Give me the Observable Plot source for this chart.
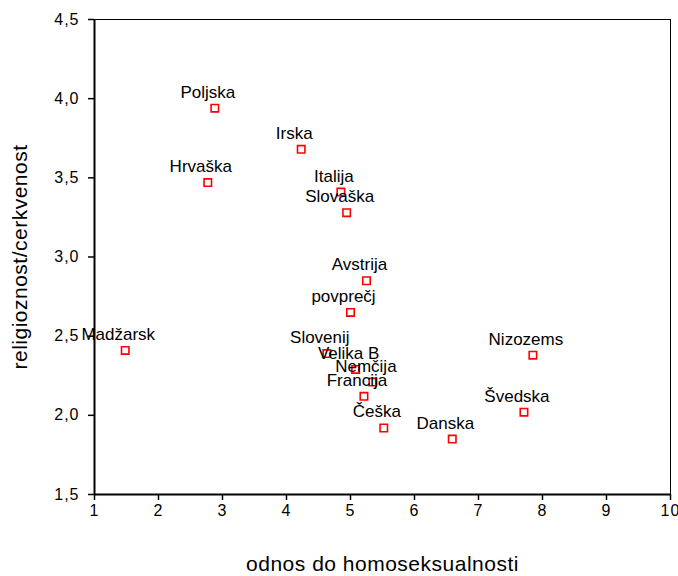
<!DOCTYPE html>
<html>
<head>
<meta charset="utf-8">
<script src="https://cdn.jsdelivr.net/npm/d3@7"></script>
<script src="https://cdn.jsdelivr.net/npm/@observablehq/plot@0.6"></script>
<style>
  html, body { margin: 0; padding: 0; background: #fff; }
  #chart { width: 678px; height: 576px; }
</style>
</head>
<body>
<div id="chart"></div>
<script>
const countries = ["Poljska","Irska","Hrvaška","Italija","Slovaška","Avstrija","povprečj","Madžarsk","Slovenij","Velika B","Nemčija","Francija","Češka","Danska","Švedska","Nizozems"];
const homosexuality = [2.88, 4.23, 2.77, 4.85, 4.94, 5.25, 5.00, 1.48, 4.63, 5.08, 5.35, 5.21, 5.52, 6.59, 7.71, 7.85];
const religiosity = [3.94, 3.68, 3.47, 3.41, 3.28, 2.85, 2.65, 2.41, 2.39, 2.29, 2.21, 2.12, 1.92, 1.85, 2.02, 2.38];
const xTicks = [1,2,3,4,5,6,7,8,9,10];
const yTicks = [1.5,2.0,2.5,3.0,3.5,4.0,4.5];

const data = countries.map((c, i) => ({country: c, x: homosexuality[i], y: religiosity[i]}));
const fmt = d => d3.format(".1f")(d).replace(".", ",");
const font = "'Liberation Sans', Arial, sans-serif";

const chart = Plot.plot({
  width: 678,
  height: 576,
  marginLeft: 94,
  marginRight: 8,
  marginTop: 19,
  marginBottom: 82,
  style: {fontFamily: font, fontSize: "16px", color: "#000", background: "#fff"},
  x: {domain: [1, 10]},
  y: {domain: [1.5, 4.5]},
  marks: [
    Plot.frame({stroke: "#000", strokeWidth: 1}),
    Plot.ruleX([1], {stroke: "#000", strokeWidth: 2}),
    Plot.ruleY([1.5], {stroke: "#000", strokeWidth: 2}),
    Plot.axisX({ticks: xTicks, tickSize: 6, tickPadding: 4, tickFormat: d => String(d), fontSize: 16, strokeWidth: 1.5,
      label: "odnos do homoseksualnosti", labelAnchor: "center", labelOffset: 76, labelArrow: "none"}),
    Plot.axisY({ticks: yTicks, tickSize: 6, tickPadding: 9, tickFormat: fmt, fontSize: 16, strokeWidth: 1.5,
      label: "religioznost/cerkvenost", labelAnchor: "center", labelOffset: 82, labelArrow: "none"}),
    Plot.dot(data, {x: "x", y: "y", symbol: "square", r: 4.2, stroke: "#ff0000", strokeWidth: 1.6, fill: "none"}),
    Plot.text(data, {x: "x", y: "y", text: "country", dy: -16, dx: -7, fontSize: 17, fill: "#000"})
  ]
});
d3.select(chart).selectAll("[aria-label='x-axis tick label'] text, [aria-label='y-axis tick label'] text").style("letter-spacing", "1px");
d3.select(chart).selectAll("[aria-label='x-axis label'] text, [aria-label='y-axis label'] text").style("font-size", "21px").style("letter-spacing", "0.5px");
document.getElementById("chart").appendChild(chart);
</script>
</body>
</html>
